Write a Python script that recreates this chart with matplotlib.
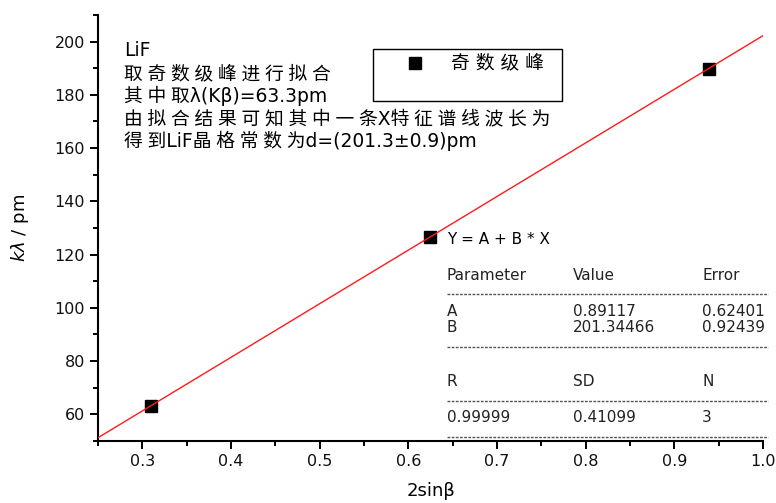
import numpy as np
import matplotlib
matplotlib.use('Agg')
import matplotlib.pyplot as plt
from matplotlib.ticker import MultipleLocator
from matplotlib.patches import Rectangle

plt.rcParams['font.family'] = ['DejaVu Sans', 'Noto Sans CJK SC']

# measured peaks
two_sin_beta = [0.3100, 0.6244, 0.9387]
k_lambda = [63.3, 126.6, 189.9]

# linear fit Y = A + B * X
fit_a, fit_a_err = 0.89117, 0.62401
fit_b, fit_b_err = 201.34466, 0.92439
fit_r, fit_sd, fit_n = 0.99999, 0.41099, 3

info_lines = ['LiF',
              '取奇数级峰进行拟合',
              '其中取λ(Kβ)=63.3pm',
              '由拟合结果可知其中一条X特征谱线波长为',
              '得到LiF晶格常数为d=(201.3±0.9)pm']
legend_label = '奇数级峰'

AX_L, AX_R, AX_T, AX_B = 98, 763, 15, 441


def spread(s, gap='\u2005'):
    """Put a gap between neighbouring CJK characters."""
    out = ''
    for i, c in enumerate(s):
        out += c
        if i + 1 < len(s) and ord(c) > 0x2E80 and ord(s[i + 1]) > 0x2E80:
            out += gap
    return out


def px(x, y):
    """Pixel position -> axes fraction."""
    return (x - AX_L) / (AX_R - AX_L), (AX_B - y) / (AX_B - AX_T)


fig = plt.figure(figsize=(7.76, 5.03), dpi=100)
ax = fig.add_axes([AX_L / 776, 1 - AX_B / 503, (AX_R - AX_L) / 776, (AX_B - AX_T) / 503])

ax.plot(two_sin_beta, k_lambda, 's', color='black', markersize=8, zorder=2)
xs = np.array([0.25, 1.0])
ax.plot(xs, fit_a + fit_b * xs, '-', color='#ff1a1a', lw=1.0, zorder=3)

ax.set_xlim(0.25, 1.0)
ax.set_ylim(50, 210)
ax.xaxis.set_major_locator(MultipleLocator(0.1))
ax.xaxis.set_minor_locator(MultipleLocator(0.05))
ax.yaxis.set_major_locator(MultipleLocator(20))
ax.yaxis.set_minor_locator(MultipleLocator(10))
ax.tick_params(which='major', length=6, width=1.4, labelsize=11.5, direction='out',
               labelcolor='#111111')
ax.tick_params(which='minor', length=3.5, width=1.4, direction='out')
for side in ['top', 'right']:
    ax.spines[side].set_visible(False)
for side in ['left', 'bottom']:
    ax.spines[side].set_linewidth(1.5)

ax.set_xlabel('2sinβ', fontsize=13, labelpad=9)
ax.set_ylabel(r'$k\lambda$ / pm', fontsize=13, labelpad=17)

# info text block
for i, line in enumerate(info_lines):
    x, y = px(124, 51 + i * 22.5)
    ax.text(x, y, spread(line), transform=ax.transAxes, fontsize=13.5,
            ha='left', va='center')

# legend box
x0, y0 = px(373, 101)
x1, y1 = px(562, 49)
ax.add_patch(Rectangle((x0, y0), x1 - x0, y1 - y0, transform=ax.transAxes,
                       facecolor='white', edgecolor='black', lw=1.0, zorder=4))
mx, my = px(415, 63)
ax.plot([mx], [my], 's', color='black', markersize=8, transform=ax.transAxes, zorder=5)
tx, ty = px(451, 63)
ax.text(tx, ty, spread(legend_label, ' '), transform=ax.transAxes, fontsize=13.5,
        ha='left', va='center', zorder=5)

# fit result table
cols = [447, 573, 702]
rows = [
    (275, ['Parameter', 'Value', 'Error']),
    (311, ['A', f'{fit_a:.5f}', f'{fit_a_err:.5f}']),
    (328, ['B', f'{fit_b:.5f}', f'{fit_b_err:.5f}']),
    (382, ['R', 'SD', 'N']),
    (417, [f'{fit_r:.5f}', f'{fit_sd:.5f}', str(fit_n)]),
]
x, y = px(447, 240)
ax.text(x, y, 'Y = A + B * X', transform=ax.transAxes, fontsize=11, ha='left', va='center')
for ry, cells in rows:
    for cx, cell in zip(cols, cells):
        x, y = px(cx, ry)
        ax.text(x, y, cell, transform=ax.transAxes, fontsize=11, ha='left', va='center',
                color='#222222')
for dy in [294, 347, 401, 437]:
    xa, ya = px(447, dy)
    xb, _ = px(768, dy)
    ax.plot([xa, xb], [ya, ya], color='#555555', lw=1.0, ls=(0, (2, 1)),
            transform=ax.transAxes, clip_on=False)

fig.savefig('out.png', dpi=100)
